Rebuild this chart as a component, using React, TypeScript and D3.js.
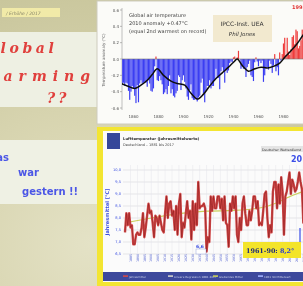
import * as d3 from 'd3';

const W = 303;
const H = 286;

// HadCRUT style global anomaly, one value per year from 1850
const ANOM_START = 1850;
const ANOMALY = [
  -0.44, -0.3, -0.29, -0.33, -0.29, -0.3, -0.39, -0.5, -0.4, -0.33,
  -0.36, -0.45, -0.54, -0.32, -0.53, -0.3, -0.26, -0.3, -0.29, -0.28,
  -0.29, -0.34, -0.26, -0.3, -0.39, -0.4, -0.36, -0.09, 0.03, -0.26,
  -0.27, -0.21, -0.26, -0.31, -0.43, -0.41, -0.37, -0.43, -0.33, -0.2,
  -0.42, -0.37, -0.45, -0.47, -0.42, -0.39, -0.2, -0.22, -0.38, -0.26,
  -0.2, -0.28, -0.36, -0.46, -0.5, -0.38, -0.31, -0.48, -0.5, -0.5,
  -0.48, -0.52, -0.47, -0.45, -0.29, -0.24, -0.42, -0.53, -0.39, -0.33,
  -0.33, -0.26, -0.36, -0.33, -0.33, -0.26, -0.12, -0.23, -0.23, -0.37,
  -0.15, -0.1, -0.15, -0.29, -0.14, -0.17, -0.14, -0.05, -0.03, -0.04,
  0.02, 0.03, -0.01, 0.02, 0.1, 0.0, -0.12, -0.1, -0.12, -0.12,
  -0.22, -0.1, -0.06, -0.02, -0.2, -0.22, -0.27, -0.04, 0.02, -0.03,
  -0.09, -0.02, -0.05, -0.02, -0.28, -0.2, -0.12, -0.1, -0.13, -0.02,
  -0.06, -0.17, -0.08, 0.06, -0.15, -0.1, -0.2, 0.08, -0.02, 0.06,
  0.19, 0.26, 0.05, 0.26, 0.09, 0.05, 0.12, 0.27, 0.29, 0.18,
  0.36, 0.34, 0.13, 0.16, 0.23, 0.36, 0.22, 0.39, 0.53, 0.31,
  0.28, 0.41, 0.46, 0.47, 0.45, 0.48, 0.43, 0.4, 0.32, 0.44, 0.47,
];
const SMOOTH_YEARS = [1850, 1855, 1861, 1866, 1871, 1875, 1879, 1884, 1890, 1895, 1901, 1906, 1911, 1916, 1921, 1926, 1931, 1936, 1940, 1943, 1947, 1952, 1957, 1962, 1967, 1972, 1977, 1981, 1986, 1991, 1996, 2001, 2006, 2010];
const SMOOTH_VALUES = [-0.3, -0.33, -0.36, -0.32, -0.26, -0.19, -0.12, -0.2, -0.27, -0.3, -0.32, -0.42, -0.49, -0.43, -0.33, -0.24, -0.17, -0.1, -0.04, 0.0, -0.08, -0.15, -0.12, -0.1, -0.11, -0.09, -0.05, 0.02, 0.1, 0.19, 0.3, 0.38, 0.45, 0.48];
const TOP_Y_TICKS = [0.6, 0.4, 0.2, 0.0, -0.2, -0.4, -0.6];
const TOP_X_TICKS = [1860, 1880, 1900, 1920, 1940, 1960, 1980, 2000];
const TOP_NOTE = ['Global air temperature', '2010 anomaly +0.47°C', '(equal 2nd warmest on record)'];

// DWD annual mean temperature Germany from 1881
const DWD_START = 1881;
const DWD_TEMPS = [
  7.4, 8.2, 7.7, 8.2, 7.6, 7.7, 6.9, 6.9, 7.3, 7.4,
  7.3, 7.3, 7.6, 8.2, 7.2, 7.6, 8.1, 8.6, 8.2, 8.3,
  7.8, 7.2, 8.1, 8.0, 7.7, 8.1, 7.8, 7.5, 7.4, 8.2,
  8.9, 8.0, 8.6, 8.7, 8.1, 8.3, 7.5, 8.5, 7.3, 8.6,
  9.0, 7.2, 7.8, 7.6, 8.2, 8.7, 8.0, 8.3, 7.1, 8.7,
  7.5, 8.6, 7.7, 9.5, 8.4, 8.5, 8.5, 8.6, 8.4, 6.6,
  7.2, 7.0, 8.9, 8.3, 8.9, 8.4, 8.4, 8.9, 8.9, 8.4,
  8.8, 7.9, 8.9, 7.8, 7.7, 6.8, 8.6, 8.3, 8.9, 8.4,
  8.9, 7.3, 7.0, 8.0, 7.5, 8.6, 8.9, 8.2, 7.7, 7.7,
  8.3, 7.9, 8.3, 8.9, 8.9, 8.4, 8.7, 7.7, 7.8, 7.7,
  8.3, 9.0, 9.1, 8.0, 7.2, 7.7, 7.4, 9.1, 9.5, 9.5,
  8.4, 9.4, 8.6, 9.7, 9.1, 7.3, 8.9, 9.1, 9.5, 9.9,
  9.0, 9.6, 9.4, 9.1, 9.2, 9.5, 9.9, 9.5, 9.2, 7.8,
  9.6, 9.1, 8.7, 10.3, 9.9, 9.5, 9.6,
];
const TREND_YEARS = [1881, 1900, 1920, 1940, 1960, 1980, 1990, 2000, 2010, 2017];
const TREND_VALUES = [7.8, 8.0, 8.2, 8.3, 8.3, 8.4, 8.6, 8.9, 9.1, 9.3];
const DWD_Y_TICKS = [10.0, 9.5, 9.0, 8.5, 8.0, 7.5, 7.0, 6.5];
const DWD_X_TICKS = [1885, 1890, 1895, 1900, 1905, 1910, 1915, 1920, 1925, 1930, 1935, 1940, 1945, 1950, 1955, 1960, 1965, 1970, 1975, 1980, 1985, 1990, 1995, 2000, 2005, 2010, 2015];
const LEGEND_ITEMS = ['Jahresmittel', 'Lineare Regression 1881-2017', 'Gleitendes Mittel', '1961-90 Mittelwert'];
const LEGEND_COLORS = ['#d24a4a', '#cfcfcf', '#c9cf5a', '#9fb0ff'];

export default function App() {
  const xTop = d3.scaleLinear().domain([1850, 2010]).range([121, 321]);
  const yTop = d3.scaleLinear().domain([-0.6, 0.6]).range([108, 10]);
  const smoothLine = d3
    .line<number>()
    .x((_, i) => xTop(SMOOTH_YEARS[i]))
    .y((d) => yTop(d))
    .curve(d3.curveCatmullRom);

  const xDwd = d3.scaleLinear().domain([1881, 2017]).range([125, 313]);
  const yDwd = d3.scaleLinear().domain([6.5, 10.0]).range([254, 170]);
  const dwdLine = d3
    .line<number>()
    .x((_, i) => xDwd(DWD_START + i))
    .y((d) => yDwd(d));
  const trendLine = d3
    .line<number>()
    .x((_, i) => xDwd(TREND_YEARS[i]))
    .y((d) => yDwd(d))
    .curve(d3.curveBasis);

  const bw = xTop(1851) - xTop(1850);

  return (
    <svg
      width={W}
      height={H}
      viewBox={`0 0 ${W} ${H}`}
      style={{ position: 'fixed', left: 0, top: 0 }}
    >
      <defs>
        <radialGradient id="bg" cx="0.3" cy="0.85" r="0.9">
          <stop offset="0%" stopColor="#e4e2c6" />
          <stop offset="45%" stopColor="#d9d6b2" />
          <stop offset="100%" stopColor="#c9c69c" />
        </radialGradient>
        <filter id="soft">
          <feGaussianBlur stdDeviation="0.45" />
        </filter>
        <clipPath id="topClip">
          <rect x={122} y={2} width={181} height={112} />
        </clipPath>
        <clipPath id="dwdClip">
          <rect x={118} y={150} width={185} height={115} />
        </clipPath>
      </defs>

      <g filter="url(#soft)">
        <rect width={W} height={H} fill="url(#bg)" />

        {/* left slide texts */}
        <rect x={2} y={8} width={58} height={9} fill="#f1eaa8" />
        <text x={6} y={14.5} fontSize={4.5} fill="#8a876a" fontFamily="DejaVu Sans" fontStyle="italic">
          / Erhöhe / 2017
        </text>
        <rect x={0} y={32} width={98} height={75} fill="#eef0e3" />
        <g fill="#e0403c" fontFamily="DejaVu Serif" fontStyle="italic" fontWeight="bold" fontSize={14}>
          <text x={-15} y={53} letterSpacing={3.6}>Global</text>
          <text x={-17} y={81} letterSpacing={6}>Warming</text>
          <text x={47} y={103} letterSpacing={3}>??</text>
        </g>
        <rect x={0} y={140} width={98} height={64} fill="#eff1e4" />
        <g fill="#4b56e6" fontFamily="DejaVu Sans" fontWeight="bold" fontSize={10}>
          <text x={-12} y={161}>Das</text>
          <text x={18} y={176}>war</text>
          <text x={22} y={195}>gestern !!</text>
        </g>

        {/* top chart */}
        <rect x={97} y={1} width={210} height={123} fill="#fbfbf8" stroke="#cdcbbd" strokeWidth={1} />
        <text
          transform="translate(105,60) rotate(-90)"
          textAnchor="middle"
          fontSize={4}
          fill="#666"
          fontFamily="DejaVu Sans"
        >
          Temperature anomaly (°C)
        </text>
        {TOP_Y_TICKS.map((t) => (
          <g key={t}>
            <text x={119} y={yTop(t) + 1.5} textAnchor="end" fontSize={4} fill="#555" fontFamily="DejaVu Sans">
              {t.toFixed(1)}
            </text>
            <line x1={120} x2={122} y1={yTop(t)} y2={yTop(t)} stroke="#777" strokeWidth={0.5} />
          </g>
        ))}
        <line x1={122} x2={122} y1={8} y2={110} stroke="#999" strokeWidth={0.6} />
        <g clipPath="url(#topClip)">
          {ANOMALY.map((v, i) => (
            <rect
              key={i}
              x={xTop(ANOM_START + i) - bw / 2}
              width={bw * 0.95}
              y={yTop(Math.max(v, 0))}
              height={Math.abs(yTop(v) - yTop(0))}
              fill={v >= 0 ? '#ee3a3a' : '#3b3df2'}
            />
          ))}
          <line x1={122} x2={303} y1={yTop(0)} y2={yTop(0)} stroke="#777" strokeWidth={0.6} />
          <path d={smoothLine(SMOOTH_VALUES) ?? ''} fill="none" stroke="#111" strokeWidth={1.5} />
        </g>
        {TOP_X_TICKS.map((t) => (
          <text key={t} x={xTop(t)} y={118} textAnchor="middle" fontSize={4} fill="#555" fontFamily="DejaVu Sans">
            {t}
          </text>
        ))}
        {TOP_NOTE.map((s, i) => (
          <text key={s} x={129} y={17 + i * 8} fontSize={5} fill="#444" fontFamily="DejaVu Sans">
            {s}
          </text>
        ))}
        <rect x={213} y={15} width={59} height={27} fill="#f2e9cf" />
        <text x={242} y={26} textAnchor="middle" fontSize={6} fill="#333" fontFamily="DejaVu Sans">
          IPCC-Inst. UEA
        </text>
        <text x={242} y={36} textAnchor="middle" fontSize={5.5} fill="#333" fontStyle="italic" fontFamily="DejaVu Sans">
          Phil Jones
        </text>
        <text x={292} y={9} fontSize={5} fill="#e03030" fontFamily="DejaVu Sans" fontWeight="bold">
          1998
        </text>

        {/* bottom chart */}
        <rect x={97} y={127} width={210} height={160} fill="#f3e532" />
        <rect x={103} y={131} width={204} height={151} fill="#fbfbfb" />
        <rect x={107} y={133} width={13} height={16} fill="#34469a" />
        <text x={123} y={140} fontSize={3.8} fill="#333" fontWeight="bold" fontFamily="DejaVu Sans">
          Lufttemperatur (Jahresmittelwerte)
        </text>
        <text x={123} y={145.5} fontSize={3.5} fill="#444" fontFamily="DejaVu Sans">
          Deutschland – 1881 bis 2017
        </text>
        <rect x={261} y={146} width={44} height={6} fill="#e4e4e4" />
        <text x={262} y={150.5} fontSize={3.3} fill="#333" fontFamily="DejaVu Sans">
          Deutscher Wetterdienst
        </text>
        <text x={291} y={162} fontSize={8} fill="#3a4ee8" fontWeight="bold" fontFamily="DejaVu Sans">
          2014
        </text>
        <text
          transform="translate(109,212) rotate(-90)"
          textAnchor="middle"
          fontSize={5}
          fontWeight="bold"
          fill="#3a4ee0"
          fontFamily="DejaVu Sans"
        >
          Jahresmittel [°C]
        </text>
        {DWD_Y_TICKS.map((t) => (
          <g key={t}>
            <line x1={123} x2={303} y1={yDwd(t)} y2={yDwd(t)} stroke="#d6d6dc" strokeWidth={0.6} />
            <text x={121} y={yDwd(t) + 1.3} textAnchor="end" fontSize={3.6} fill="#3a4ee0" fontFamily="DejaVu Sans">
              {t.toFixed(1).replace('.', ',')}
            </text>
          </g>
        ))}
        {DWD_X_TICKS.map((t) => (
          <g key={t}>
            <line x1={xDwd(t)} x2={xDwd(t)} y1={165} y2={254} stroke="#e4e4ea" strokeWidth={0.5} />
            <text
              transform={`translate(${xDwd(t) + 1.2},${262}) rotate(-90)`}
              fontSize={3.2}
              fill="#5060d0"
              fontFamily="DejaVu Sans"
            >
              {t}
            </text>
          </g>
        ))}
        <g clipPath="url(#dwdClip)">
          <path d={trendLine(TREND_VALUES) ?? ''} fill="none" stroke="#c9cf5a" strokeWidth={1.2} />
          <path d={dwdLine(DWD_TEMPS) ?? ''} fill="none" stroke="#d24a4a" strokeWidth={2.4} strokeLinejoin="round" />
          <path d={dwdLine(DWD_TEMPS) ?? ''} fill="none" stroke="#8e1c1c" strokeWidth={0.6} />
        </g>
        <line x1={300} x2={300} y1={228} y2={246} stroke="#3a4ee8" strokeWidth={1.2} />
        <rect x={196} y={249} width={10} height={5} fill="#fff" stroke="#8090d0" strokeWidth={0.4} />
        <text x={196} y={248} fontSize={4.5} fontWeight="bold" fill="#3a4ee0" fontFamily="DejaVu Sans">
          6,6
        </text>
        <rect x={243} y={242} width={58} height={16} fill="#f3e42c" />
        <text x={246} y={253} fontSize={6.4} fill="#1d2a7a" fontFamily="DejaVu Serif" fontWeight="bold">
          1961-90: <tspan fill="#2c3fd0">8,2°</tspan>
        </text>
        <rect x={103} y={272} width={204} height={9} fill="#3c4a9c" />
        {LEGEND_ITEMS.map((s, i) => (
          <g key={s}>
            <rect x={123 + i * 45} y={275.3} width={5} height={1.6} fill={LEGEND_COLORS[i]} />
            <text x={129 + i * 45} y={277.5} fontSize={2.8} fill="#c8cce8" fontFamily="DejaVu Sans">
              {s}
            </text>
          </g>
        ))}
      </g>
    </svg>
  );
}
